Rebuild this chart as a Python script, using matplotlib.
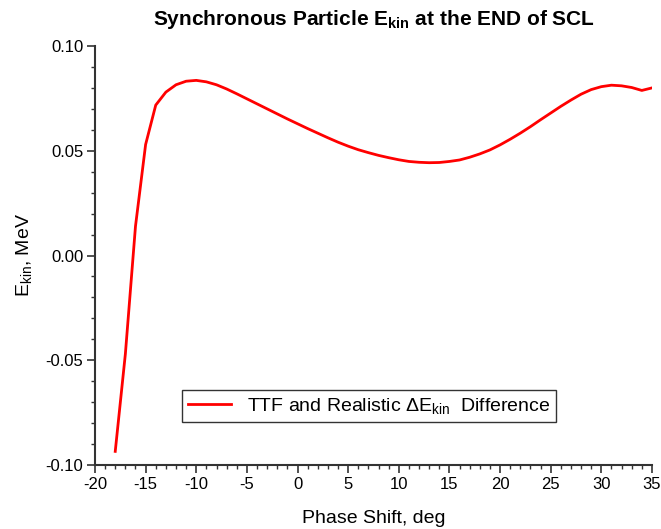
import matplotlib
matplotlib.use("Agg")
import matplotlib.pyplot as plt
from matplotlib.ticker import MultipleLocator, FormatStrFormatter

plt.rcParams["font.family"] = ["Liberation Sans", "DejaVu Sans"]
plt.rcParams["mathtext.fontset"] = "custom"
plt.rcParams["mathtext.rm"] = "Liberation Sans"
plt.rcParams["mathtext.it"] = "Liberation Sans"
plt.rcParams["mathtext.bf"] = "Liberation Sans:bold"
plt.rcParams["axes.unicode_minus"] = False

# Phase shift (deg) and kinetic energy difference (MeV)
phase_shift = list(range(-18, 36))
ekin_diff = [
    -0.0935, -0.0470, 0.0140, 0.0530, 0.0718, 0.0780, 0.0815, 0.0832, 0.0836, 0.0829,
    0.0815, 0.0795, 0.0772, 0.0748, 0.0724, 0.0700, 0.0676, 0.0652, 0.0629, 0.0606,
    0.0584, 0.0562, 0.0541, 0.0522, 0.0505, 0.0491, 0.0478, 0.0467, 0.0457, 0.0449,
    0.0445, 0.0443, 0.0444, 0.0449, 0.0456, 0.0469, 0.0485, 0.0504, 0.0528, 0.0555,
    0.0584, 0.0615, 0.0648, 0.0680, 0.0712, 0.0742, 0.0770, 0.0792, 0.0806, 0.0813,
    0.0810, 0.0802, 0.0788, 0.0800,
]

fig = plt.figure(figsize=(6.61, 5.29), dpi=100)
ax = fig.add_axes([0.1437, 0.121, 0.8426, 0.792])

ax.plot(phase_shift, ekin_diff, color="red", linewidth=2,
        label=r"TTF and Realistic $\mathregular{\Delta E_{kin}}$  Difference")

ax.set_xlim(-20, 35)
ax.set_ylim(-0.10, 0.10)
ax.xaxis.set_major_locator(MultipleLocator(5))
ax.xaxis.set_minor_locator(MultipleLocator(1))
ax.yaxis.set_major_locator(MultipleLocator(0.05))
ax.yaxis.set_minor_locator(MultipleLocator(0.01))
ax.yaxis.set_major_formatter(FormatStrFormatter("%.2f"))

ax.spines["top"].set_visible(False)
ax.spines["right"].set_visible(False)
for s in ("left", "bottom"):
    ax.spines[s].set_linewidth(1.5)
    ax.spines[s].set_color("#333333")
ax.tick_params(which="major", direction="out", length=5.5, width=1.2,
               color="#333333", labelsize=12, pad=3)
ax.tick_params(which="minor", direction="out", length=3, width=1.0, color="#333333")

ax.set_xlabel("Phase Shift, deg", fontsize=14, labelpad=13)
ax.set_ylabel(r"$\mathregular{E_{kin}}$, MeV", fontsize=14, labelpad=8)
ax.set_title(r"Synchronous Particle $\mathbf{E_{kin}}$ at the END of SCL",
             fontsize=15, fontweight="bold", pad=15)

leg = ax.legend(loc="center", bbox_to_anchor=(0.492, 0.141), fontsize=14,
                fancybox=False, frameon=True, handlelength=2.2,
                borderpad=0.3, framealpha=1)
leg.get_frame().set_edgecolor("#333333")
leg.get_frame().set_linewidth(1.0)

fig.savefig("out.png", dpi=100)
